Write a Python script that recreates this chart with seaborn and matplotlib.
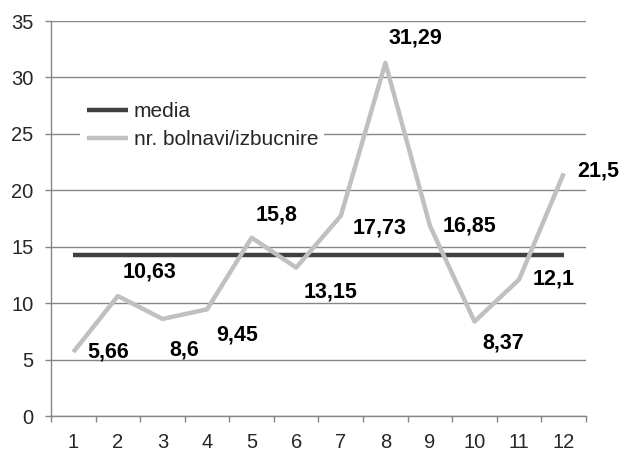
import numpy as np
import pandas as pd
import matplotlib
matplotlib.use("Agg")
import matplotlib.pyplot as plt
from matplotlib.ticker import MultipleLocator, FixedLocator
import seaborn as sns

# --- Data ---
months = [1, 2, 3, 4, 5, 6, 7, 8, 9, 10, 11, 12]
bolnavi = [5.66, 10.63, 8.6, 9.45, 15.8, 13.15, 17.73, 31.29, 16.85, 8.37, 12.1, 21.5]
media_value = 14.26
value_labels = ["5,66", "10,63", "8,6", "9,45", "15,8", "13,15",
                "17,73", "31,29", "16,85", "8,37", "12,1", "21,5"]

# label offsets in pixels (dx, dy) relative to each point, like the Excel layout
label_offsets = [(35, 0), (32, 24), (22, -31), (30, -26), (25, 23), (34, -24),
                 (39, -12), (30, 25), (40, 0), (29, -21), (34, 0), (35, 2)]

df = pd.DataFrame({"luna": months, "bolnavi": bolnavi,
                   "media": [media_value] * len(months)})

sns.set_style("white")
plt.rcParams['font.family'] = ['Liberation Sans', 'DejaVu Sans']

fig = plt.figure(figsize=(6.21, 4.54), dpi=100)
ax = fig.add_axes([51 / 621, 1 - 416 / 454, 535 / 621, 395 / 454])

grid_col = '#868686'

sns.lineplot(data=df, x="luna", y="media", ax=ax, color='#404040', linewidth=3.2,
             label="media", solid_capstyle='butt', zorder=3)
sns.lineplot(data=df, x="luna", y="bolnavi", ax=ax, color='#c0c0c0', linewidth=3.2,
             label="nr. bolnavi/izbucnire", solid_capstyle='butt', zorder=4)

# data labels
for x, y, txt, (dx, dy) in zip(months, bolnavi, value_labels, label_offsets):
    ax.annotate(txt, (x, y), xytext=(dx, dy), textcoords='offset pixels',
                ha='center', va='center', fontsize=15.5, fontweight='bold',
                color='black', zorder=6)

# axes styling
ax.set_xlim(0.5, 12.5)
ax.set_ylim(0, 35)
ax.yaxis.set_major_locator(MultipleLocator(5))
ax.xaxis.set_major_locator(FixedLocator(months))
ax.xaxis.set_minor_locator(FixedLocator(np.arange(0.5, 13, 1)))
ax.grid(axis='y', color=grid_col, linewidth=1)
ax.set_axisbelow(True)
ax.set_xlabel("")
ax.set_ylabel("")

for side in ['top', 'right']:
    ax.spines[side].set_visible(False)
for side in ['left', 'bottom']:
    ax.spines[side].set_color(grid_col)
    ax.spines[side].set_linewidth(1)

ax.tick_params(axis='y', which='major', direction='out', length=4.5, width=1,
               color=grid_col, pad=8, labelsize=14.5, left=True)
ax.tick_params(axis='x', which='major', length=0, pad=12.5, labelsize=14.5)
ax.tick_params(axis='x', which='minor', direction='out', length=4.5, width=1,
               color=grid_col, bottom=True)

leg = ax.legend(loc='upper left', bbox_to_anchor=(0.055, 0.81), borderaxespad=0,
                frameon=True, fontsize=15, handlelength=2.0, handletextpad=0.25,
                labelspacing=0.42, borderpad=0.3)
leg.get_frame().set_facecolor('white')
leg.get_frame().set_edgecolor('none')
leg.get_frame().set_alpha(1)
leg.get_frame().set_boxstyle('square', pad=0)

fig.savefig("out.png", dpi=100)
